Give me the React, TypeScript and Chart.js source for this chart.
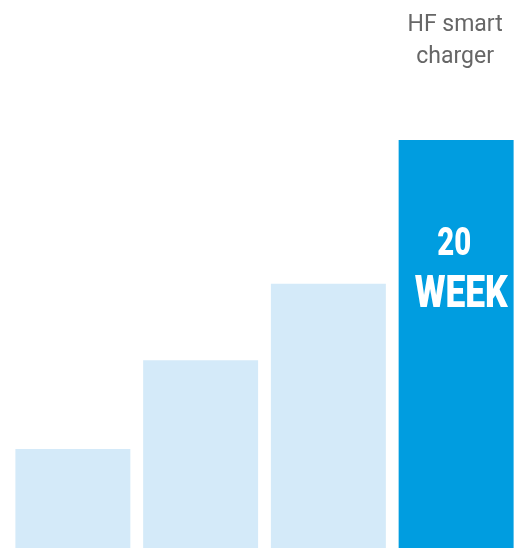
import React, { useEffect, useRef } from "react";
import { Chart, registerables } from "chart.js";

Chart.register(...registerables);

const categories = ["A", "B", "C", "HF smart charger"];
const weeks = [4.85, 9.2, 12.95, 20];
const topLabels = ["", "", "", "HF smart|charger"];
const barLabels = ["", "", "", "20|WEEK"];
const barColors = ["#d4eaf9", "#d4eaf9", "#d4eaf9", "#009de0"];

const textPlugin = {
  id: "textPlugin",
  afterDatasetsDraw(chart: any) {
    const ctx = chart.ctx;
    const meta = chart.getDatasetMeta(0);
    meta.data.forEach((bar: any, i: number) => {
      const x = bar.x;
      const top = topLabels[i];
      if (top) {
        const lines = top.split("|");
        ctx.save();
        ctx.fillStyle = "#666666";
        ctx.font = "23px Roboto";
        ctx.textAlign = "center";
        ctx.textBaseline = "alphabetic";
        lines.forEach((l: string, k: number) => {
          ctx.fillText(l, x - 1, 31 + k * 32);
        });
        ctx.restore();
      }
      const inner = barLabels[i];
      if (inner) {
        const [a, b] = inner.split("|");
        ctx.save();
        ctx.fillStyle = "#ffffff";
        ctx.textAlign = "center";
        ctx.textBaseline = "alphabetic";
        ctx.font = "900 38px Roboto";
        const wa = ctx.measureText(a).width;
        ctx.save();
        ctx.translate(x - 2, bar.y + 115);
        ctx.scale(34 / wa, 1);
        ctx.fillText(a, 0, 0);
        ctx.restore();
        ctx.font = "900 44px Roboto";
        const w = ctx.measureText(b).width;
        ctx.save();
        ctx.translate(x + 5, bar.y + 167);
        ctx.scale(93 / w, 1);
        ctx.fillText(b, 0, 0);
        ctx.restore();
        ctx.restore();
      }
    });
  },
};

export default function App() {
  const ref = useRef<HTMLCanvasElement>(null);
  useEffect(() => {
    if (!ref.current) return;
    const chart = new Chart(ref.current, {
      type: "bar",
      data: {
        labels: categories,
        datasets: [
          {
            data: weeks,
            backgroundColor: barColors,
            borderWidth: 0,
            barPercentage: 0.9,
            categoryPercentage: 1,
          },
        ],
      },
      options: {
        animation: false,
        responsive: false,
        maintainAspectRatio: false,
        layout: { padding: { left: 9, right: -3, top: 0, bottom: 0 } },
        plugins: { legend: { display: false }, tooltip: { enabled: false } },
        scales: {
          x: { display: false },
          y: { display: false, min: 0, max: (20 * 548) / 408 },
        },
      },
      plugins: [textPlugin],
    });
    return () => chart.destroy();
  }, []);
  return (
    <div style={{ position: "fixed", left: 0, top: 0, width: 520, height: 548, background: "#fff" }}>
      <canvas ref={ref} width={520} height={548} style={{ display: "block", width: 520, height: 548 }} />
    </div>
  );
}
